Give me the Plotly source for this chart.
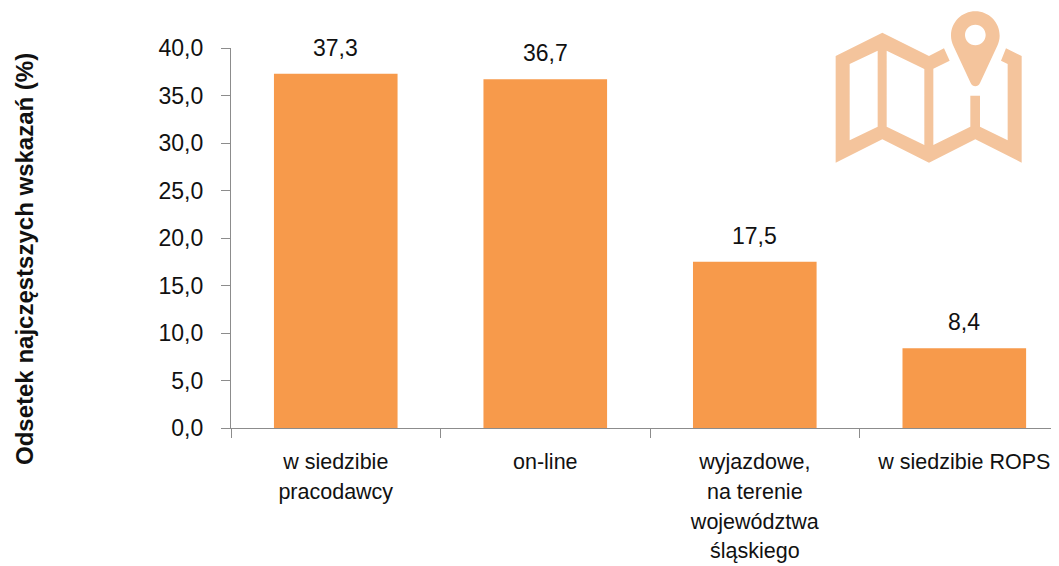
import plotly.graph_objects as go

categories = ["w siedzibie<br>pracodawcy", "on-line", "wyjazdowe,<br>na terenie<br>województwa<br>śląskiego", "w siedzibie ROPS"]
values = [37.3, 36.7, 17.5, 8.4]
labels = ["37,3", "36,7", "17,5", "8,4"]
y_ticks = [0, 5, 10, 15, 20, 25, 30, 35, 40]
y_tick_labels = ["0,0", "5,0", "10,0", "15,0", "20,0", "25,0", "30,0", "35,0", "40,0"]
y_title = "Odsetek najczęstszych wskazań (%)"

# The page body keeps an 8px margin, so the figure is 8px smaller each way
OFFSET = 8
W, H = 1059 - OFFSET, 566 - OFFSET
ML, MT, MB = 223, 40, 138
PW, PH = W - ML, H - MT - MB
FONT = "Liberation Sans"
TEXT = "#111111"
AXIS = "#8c8c8c"
ICON = "#f4c49c"
BAR = "#f79a4b"


def pxx(abs_x):
    return (abs_x - OFFSET - ML) / PW


def pxy(abs_y):
    return 1 - (abs_y - OFFSET - MT) / PH


def P(a, b):
    # icon outline is traced in 3x crop coordinates of the top-right corner
    return "%.5f,%.5f" % (pxx(a / 3 + 820), pxy(b / 3))


def poly(p):
    return "M" + " L".join(P(x, y) for x, y in p) + " Z "


def circle(cx, cy, r):
    k = 0.5523 * r
    return ("M%s C%s %s %s C%s %s %s C%s %s %s C%s %s %s Z " % tuple(
        P(a, b) for a, b in [
            (cx - r, cy),
            (cx - r, cy - k), (cx - k, cy - r), (cx, cy - r),
            (cx + k, cy - r), (cx + r, cy - k), (cx + r, cy),
            (cx + r, cy + k), (cx + k, cy + r), (cx, cy + r),
            (cx - k, cy + r), (cx - r, cy + k), (cx - r, cy)]))


map_outline = [(47,168),(187,98),(327,168),(372,145),(389,182),(340,206),(340,435),(451,380),(451,287),
               (480,287),(480,380),(563,421),(563,192),(543,182),(558,145),(605,168),(605,488),(466,418),
               (327,488),(187,418),(47,488)]
left_hole = [(89,192),(173,152),(173,380),(89,421)]
mid_hole = [(200,152),(313,207),(313,435),(200,380)]
map_path = poly(map_outline) + poly(left_hole) + poly(mid_hole)

pin_path = ("M" + P(393,107) + " C" + P(393,66) + " " + P(426,34) + " " + P(466,34) +
            " C" + P(506,34) + " " + P(539,66) + " " + P(539,107) +
            " C" + P(539,118) + " " + P(536,128) + " " + P(532,137) +
            " L" + P(480,249) + " C" + P(474,262) + " " + P(458,262) + " " + P(452,249) +
            " L" + P(400,137) + " C" + P(396,128) + " " + P(393,118) + " " + P(393,107) + " Z " +
            circle(466, 105, 31))

# Outer font size sets the line pitch, the inner span sets the glyph size
tick_text = ["<br>".join('<span style="font-size:21.5px">%s</span>' % s for s in c.split("<br>")) for c in categories]

fig = go.Figure(go.Bar(
    x=categories, y=values, cliponaxis=False,
    marker=dict(color=BAR, line=dict(width=0)), width=0.59, hoverinfo="skip"))

annotations = [dict(text=t, x=c, y=v, xref="x", yref="y", xanchor="center", yanchor="bottom", yshift=11,
                    showarrow=False, font=dict(family=FONT, size=23, color=TEXT))
               for c, v, t in zip(categories, values, labels)]
annotations.append(dict(text="<b>" + y_title + "</b>", xref="paper", yref="paper", x=pxx(25), y=pxy(259),
                        xanchor="center", yanchor="middle", textangle=-90, showarrow=False,
                        font=dict(family=FONT, size=24, color=TEXT)))

fig.update_layout(
    width=W, height=H, autosize=False, showlegend=False,
    paper_bgcolor="white", plot_bgcolor="white",
    margin=dict(l=ML, r=0, t=MT, b=MB, pad=0),
    font=dict(family=FONT, color=TEXT),
    xaxis=dict(type="category", range=[-0.5, 3.452], tickson="boundaries", ticks="outside", ticklen=9,
               tickcolor=AXIS, tickwidth=1.3, showline=True, linecolor=AXIS, linewidth=1.3,
               showgrid=False, zeroline=False, tickangle=0, ticklabelstandoff=12,
               tickvals=categories, ticktext=tick_text,
               tickfont=dict(family=FONT, size=23, color=TEXT)),
    yaxis=dict(range=[0, 40], tickvals=y_ticks, ticktext=y_tick_labels, ticks="outside", ticklen=9,
               tickcolor=AXIS, tickwidth=1.3, showline=True, linecolor=AXIS, linewidth=1.3,
               showgrid=False, zeroline=False, ticklabelstandoff=13,
               tickfont=dict(family=FONT, size=23, color=TEXT)),
    annotations=annotations,
    shapes=[dict(type="path", xref="paper", yref="paper", path=map_path, fillcolor=ICON, line=dict(width=0)),
            dict(type="path", xref="paper", yref="paper", path=pin_path, fillcolor=ICON, line=dict(width=0))],
)
fig.write_html("out.html", config=dict(displayModeBar=False))
